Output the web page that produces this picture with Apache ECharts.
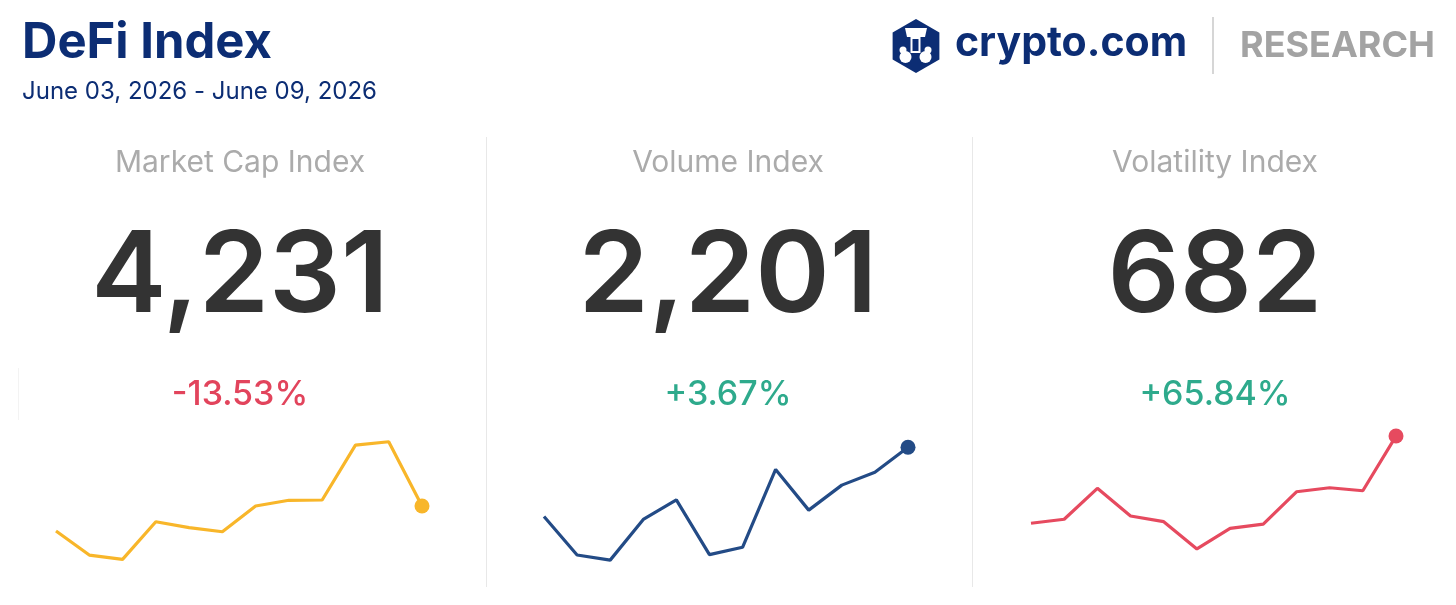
<!DOCTYPE html>
<html>
<head>
<meta charset="utf-8">
<script src="https://cdn.jsdelivr.net/npm/echarts@6/dist/echarts.min.js"></script>
<style>
html,body{margin:0;padding:0;background:#fff;}
#chart{width:1456px;height:605px;}
</style>
</head>
<body>
<div id="chart"></div>
<script>
// ---- data ----
const weeks = ['W1','W2','W3','W4','W5','W6','W7','W8','W9','W10','W11','W12'];
const marketCap = [3974, 3726, 3682, 4069, 4008, 3966, 4231, 4290, 4293, 4859, 4893, 4231];
const volume = [1985, 1865, 1849, 1976, 2037, 1866, 1889, 2132, 2005, 2083, 2123, 2201];
const volatility = [250, 270, 423, 286, 258, 123, 225, 246, 406, 426, 411, 682];
const panelTitles = ['Market Cap Index', 'Volume Index', 'Volatility Index'];
const panelValues = ['4,231', '2,201', '682'];
const panelChanges = ['-13.53%', '+3.67%', '+65.84%'];
const changeColors = ['#e2445c', '#2eaa8c', '#2eaa8c'];
const lineColors = ['#f8b62a', '#234b86', '#e64a5f'];
const titleText = 'DeFi Index';
const dateText = 'June 03, 2026 - June 09, 2026';

const FONT = 'Inter, Lato, "Noto Sans", sans-serif';
const centers = [240, 728, 1215];

const chart = echarts.init(document.getElementById('chart'));

const grids = [
  {left: 56, width: 366, top: 430, height: 150},
  {left: 544, width: 364, top: 430, height: 150},
  {left: 1031, width: 365, top: 430, height: 150}
];
const yRanges = [[3469, 5014], [1787, 2255], [-31, 712]];
const seriesData = [marketCap, volume, volatility];

const graphic = [];
graphic.push({type:'text', x: 22, y: 43, style:{text: titleText, font: 'bold 49px ' + FONT, fill:'#0c2d74', verticalAlign:'middle'}});
graphic.push({type:'text', x: 22, y: 92, style:{text: dateText, font: '24px ' + FONT, fill:'#0c2d74', verticalAlign:'middle'}});

// logo
graphic.push({type:'polygon', shape:{points:(function(){const p=[];for(let i=0;i<6;i++){const a=Math.PI/180*(60*i-90);p.push([916+27*Math.cos(a),46+27*Math.sin(a)]);}return p;})()}, style:{fill:'#0c2d74'}});
graphic.push({type:'polygon', shape:{points:[[905,28],[927,28],[925,37],[907,37]]}, style:{fill:'#fff'}});
graphic.push({type:'rect', shape:{x:910.5,y:37,width:10,height:16}, style:{fill:'#fff'}});
graphic.push({type:'rect', shape:{x:912.5,y:39,width:6,height:12}, style:{fill:'#0c2d74'}});
graphic.push({type:'circle', shape:{cx:905.5,cy:57,r:6}, style:{fill:'#fff'}});
graphic.push({type:'circle', shape:{cx:925.5,cy:57,r:6}, style:{fill:'#fff'}});
graphic.push({type:'circle', shape:{cx:903,cy:50,r:3.5}, style:{fill:'#fff'}});
graphic.push({type:'circle', shape:{cx:928,cy:50,r:3.5}, style:{fill:'#fff'}});
graphic.push({type:'text', x: 955, y: 44, style:{text:'crypto.com', font:'bold 41px ' + FONT, fill:'#0c2d74', verticalAlign:'middle'}});
graphic.push({type:'line', shape:{x1:1213,y1:17,x2:1213,y2:74}, style:{stroke:'#c8c8c8', lineWidth:1.5}});
graphic.push({type:'text', x: 1240, y: 46, style:{text:'RESEARCH', font:'bold 36px ' + FONT, fill:'#a3a3a3', verticalAlign:'middle'}});

// dividers
graphic.push({type:'line', shape:{x1:486.5,y1:137,x2:486.5,y2:587}, style:{stroke:'#e8e8e8', lineWidth:1}});
graphic.push({type:'line', shape:{x1:972.5,y1:137,x2:972.5,y2:587}, style:{stroke:'#e8e8e8', lineWidth:1}});
graphic.push({type:'line', shape:{x1:18.5,y1:368,x2:18.5,y2:420}, style:{stroke:'#f3f3f3', lineWidth:1}});

for (let i = 0; i < 3; i++) {
  graphic.push({type:'text', x: centers[i], y: 163, style:{text: panelTitles[i], font:'30px ' + FONT, fill:'#ababab', align:'center', verticalAlign:'middle'}});
  graphic.push({type:'text', x: centers[i], y: 278, style:{text: panelValues[i], font:'600 113px ' + FONT, fill:'#333333', align:'center', verticalAlign:'middle'}});
  graphic.push({type:'text', x: centers[i], y: 395, style:{text: panelChanges[i], font:'500 34px ' + FONT, fill: changeColors[i], align:'center', verticalAlign:'middle'}});
}

const xAxis = [], yAxis = [], series = [];
for (let i = 0; i < 3; i++) {
  xAxis.push({type:'category', gridIndex:i, data:weeks, boundaryGap:false, show:false});
  yAxis.push({type:'value', gridIndex:i, min:yRanges[i][0], max:yRanges[i][1], show:false});
  const d = seriesData[i];
  series.push({
    type:'line', xAxisIndex:i, yAxisIndex:i, data:d,
    lineStyle:{color:lineColors[i], width:3.2},
    itemStyle:{color:lineColors[i]},
    symbol:'circle', symbolSize:(v, p) => p.dataIndex === d.length - 1 ? 15 : 0,
    showSymbol:true, silent:true, animation:false
  });
}

chart.setOption({
  animation:false,
  grid: grids,
  xAxis, yAxis, series, graphic
});
</script>
</body>
</html>
